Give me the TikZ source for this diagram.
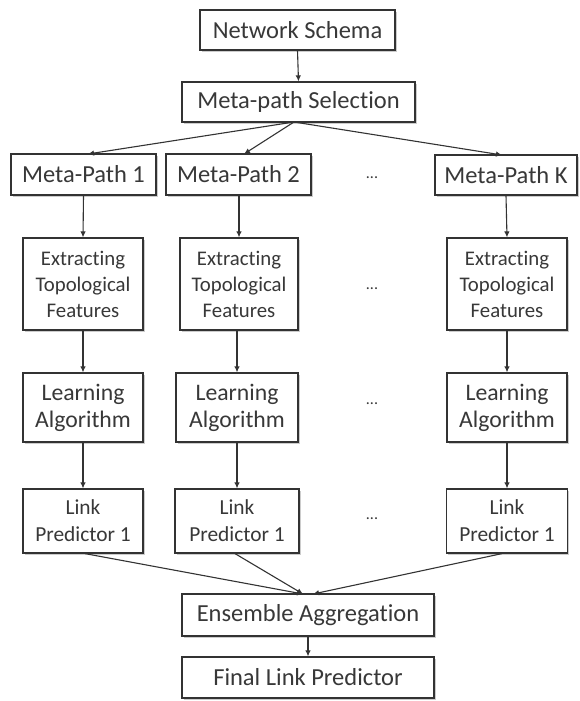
\documentclass[tikz,border=0pt]{standalone}
\usepackage{fontspec}
\setmainfont{Carlito}[Ligatures={NoCommon}]
\usetikzlibrary{arrows.meta,shadows}
\definecolor{ink}{HTML}{383838}
\definecolor{edge}{HTML}{333333}
\begin{document}
\begin{tikzpicture}[x=1pt,y=-1pt,
  box/.style={draw=edge, line width=1.2pt, fill=white, text=ink, inner sep=0pt, align=center,
    drop shadow={shadow xshift=1.6pt, shadow yshift=-1.6pt, opacity=0.4, fill=gray}},
  arr/.style={draw=edge, line width=1.1pt, -{Latex[length=6pt,width=5.5pt]}},
  big/.style={font=\fontsize{24.5}{28}\selectfont},
  feat/.style={font=\fontsize{20.8}{26}\selectfont},
  learn/.style={font=\fontsize{23.7}{27}\selectfont},
  linkf/.style={font=\fontsize{21.4}{27}\selectfont},
  dots/.style={text=ink, font=\fontsize{16}{16}\selectfont}]
\useasboundingbox (0,0) rectangle (579,701);
% top
\node[box,big,minimum width=195pt,minimum height=40pt] (ns) at (297.5,30) {Network Schema};
\node[box,big,minimum width=233pt,minimum height=40pt] (mps) at (298.5,102) {Meta-path Selection};
% meta paths
\node[box,big,minimum width=145pt,minimum height=41pt] (mp1) at (83.5,174.5) {Meta-Path 1};
\node[box,big,minimum width=145pt,minimum height=41pt] (mp2) at (238.5,174.5) {Meta-Path 2};
\node[box,big,minimum width=142pt,minimum height=40pt] (mpk) at (506,175) {Meta-Path K};
% extracting
\node[box,feat,minimum width=120pt,minimum height=92pt] (ex1) at (83,284) {Extracting\\Topological\\Features};
\node[box,feat,minimum width=118pt,minimum height=92pt] (ex2) at (239,284) {Extracting\\Topological\\Features};
\node[box,feat,minimum width=120pt,minimum height=92pt] (exk) at (507,284) {Extracting\\Topological\\Features};
% learning
\node[box,learn,minimum width=120pt,minimum height=69pt] (la1) at (83,407.5) {Learning\\Algorithm};
\node[box,learn,minimum width=122pt,minimum height=69pt] (la2) at (237,407.5) {Learning\\Algorithm};
\node[box,learn,minimum width=120pt,minimum height=69pt] (lak) at (507,407.5) {Learning\\Algorithm};
% link predictors
\node[box,linkf,minimum width=120pt,minimum height=64pt] (lp1) at (83,521) {Link\\Predictor 1};
\node[box,linkf,minimum width=124pt,minimum height=64pt] (lp2) at (237,521) {Link\\Predictor 1};
\node[box,linkf,minimum width=121pt,minimum height=64pt] (lpk) at (507,521) {Link\\Predictor 1};
% bottom
\node[box,big,minimum width=252pt,minimum height=42pt] (ens) at (308,615) {Ensemble Aggregation};
\node[box,big,minimum width=252pt,minimum height=41pt] (fin) at (308,677.5) {Final Link Predictor};
% dots
\node[dots] (d1) at (372,178) {...};
\node[dots] (d2) at (372,289) {...};
\node[dots] (d3) at (372,404) {...};
\node[dots] (d4) at (372,519) {...};
% coordinates
\coordinate (mpsb) at (294,122);
\coordinate (ensa) at (303,594);
\coordinate (ensb) at (313,594);
% connectors
\draw[arr] (ns.south) -- (mps.north);
\draw[arr] (mpsb) -- (88,154);
\draw[arr] (mpsb) -- (244,154);
\draw[arr] (mpsb) -- (502,155);
\foreach \a/\b in {mp1/ex1,ex1/la1,la1/lp1,mpk/exk,exk/lak,lak/lpk}{
  \draw[arr] (\a.south) -- (\b.north);
}
\draw[arr] (mp2.south -| ex2) -- (ex2.north);
\draw[arr] (ex2.south -| la2) -- (la2.north);
\draw[arr] (la2.south) -- (lp2.north);
\draw[arr] (lp1.south) ++(2,0) -- (ensa);
\draw[arr] (lp2.south) ++(-2,0) -- (ensa);
\draw[arr] (lpk.south) ++(-5,0) -- (ensb);
\draw[arr] (ens.south) -- (fin.north);
\end{tikzpicture}
\end{document}
